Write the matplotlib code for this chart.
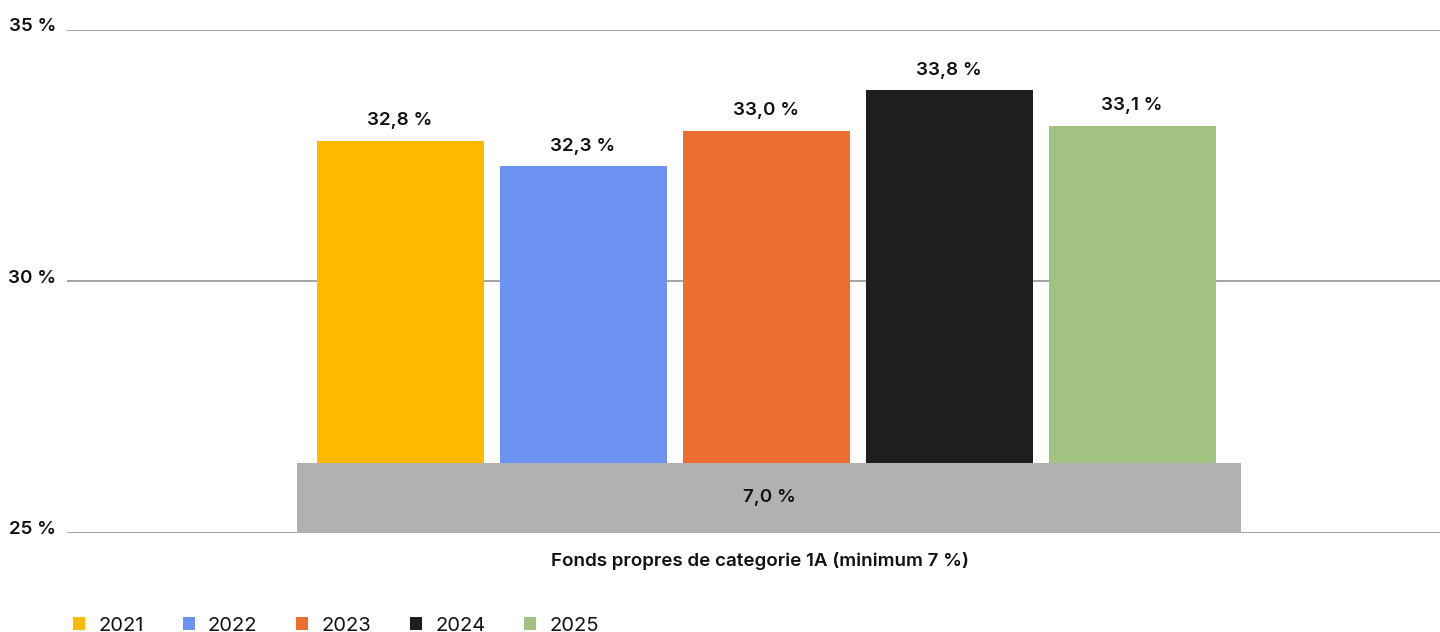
import matplotlib
matplotlib.use('Agg')
import matplotlib.pyplot as plt
from matplotlib.patches import Patch
from matplotlib.transforms import ScaledTranslation

# ---- data ----
years = ['2021', '2022', '2023', '2024', '2025']
values = [32.8, 32.3, 33.0, 33.8, 33.1]
minimum = 7.0
category = 'Fonds propres de categorie 1A (minimum 7 %)'
yticks = [25, 30, 35]

colors = ['#FFBA00', '#6D93F2', '#EE6D31', '#1E1E1E', '#A2C282']
gray = '#B1B1B1'
grid_c = '#9C9C9C'

def fmt(v):
    return f'{v:.1f}'.replace('.', ',') + ' %'

plt.rcParams['font.family'] = ['Inter', 'DejaVu Sans']
WT = 600

W, H = 1440, 632
fig = plt.figure(figsize=(W / 100, H / 100), dpi=100)
ax = fig.add_axes([67 / W, 99 / H, 1 - 67 / W, 503 / H])

# x layout (axes coords in a unit range)
plot_w = W - 67
center_px = 766
ax.set_xlim(-(center_px - 67) / plot_w, (W - center_px) / plot_w)
bar_w = 167 / plot_w
step = 183 / plot_w
n = len(values)
xs = [(i - (n - 1) / 2) * step for i in range(n)]

ax.set_ylim(25, 35)
ax.bar(xs, values, width=bar_w, color=colors, zorder=2)
for x, v in zip(xs, values):
    ax.annotate(fmt(v), (x, v), xytext=(0, 11), textcoords='offset points',
                ha='center', va='baseline', fontsize=13.5, fontweight=WT,
                color='#111111')

ax.set_yticks(yticks)
ax.set_yticklabels([f'{t} %' for t in yticks], fontsize=13.5, fontweight=WT,
                   color='#111111')
ax.tick_params(axis='y', length=0, pad=8)
ax.tick_params(axis='x', length=0, labelbottom=False)
ax.yaxis.grid(True, color=grid_c, lw=1.3, zorder=0)
ax.set_axisbelow(True)
for sp in ax.spines.values():
    sp.set_visible(False)
for lab in ax.get_yticklabels():
    lab.set_transform(lab.get_transform() + ScaledTranslation(0, 5 / 100, fig.dpi_scale_trans))

# secondary axis for minimum
ax2 = ax.twinx()
ax2.set_ylim(0, 50)
ax2.set_xlim(ax.get_xlim())
gx = 3 / plot_w
ax2.bar([gx], [minimum], width=944 / plot_w, color=gray, zorder=3)
ax2.text(gx, minimum / 2, fmt(minimum), ha='center', va='center', fontsize=13.5,
         fontweight=WT, color='#111111')
ax2.set_yticks([])
for sp in ax2.spines.values():
    sp.set_visible(False)

fig.text(760 / W, 1 - 561 / H, category, ha='center', va='center', fontsize=13.5,
         fontweight=WT, color='#111111')

handles = [Patch(facecolor=c, edgecolor='none') for c in colors]
fig.legend(handles, years, loc='lower left', bbox_to_anchor=(55 / W, -0.033),
           ncol=5, frameon=False, fontsize=14.5, handlelength=0.6,
           handleheight=0.6, handletextpad=0.65, columnspacing=1.93,
           labelcolor='#111111')

fig.savefig('out.png', dpi=100)
